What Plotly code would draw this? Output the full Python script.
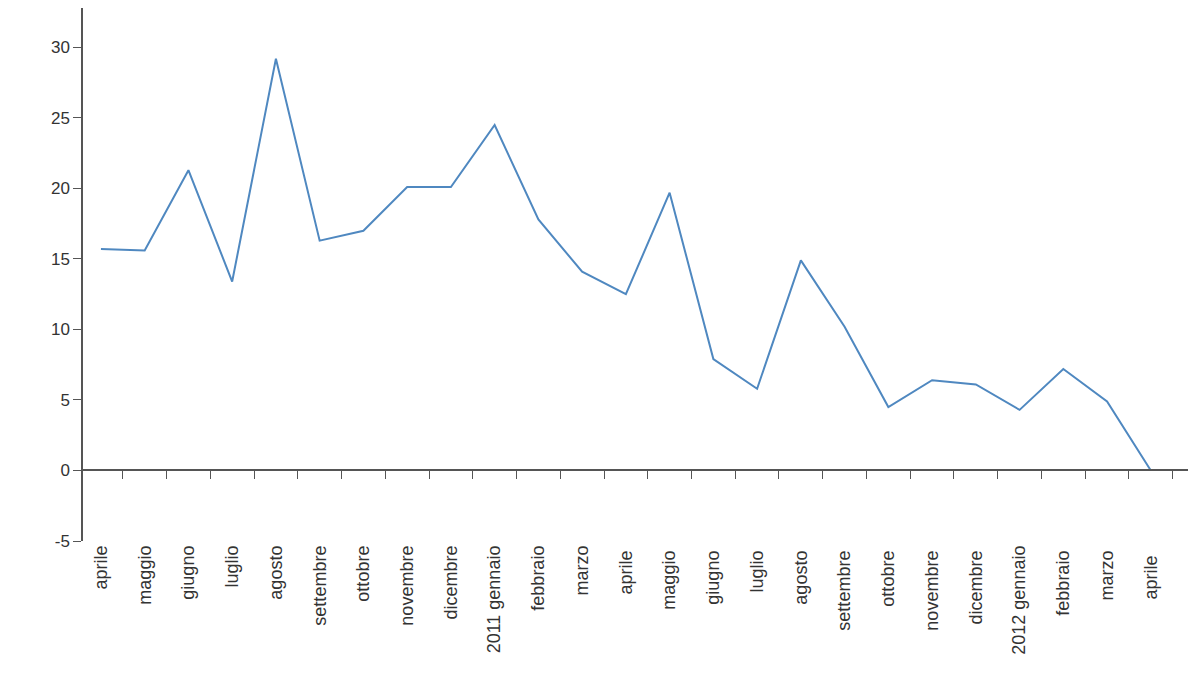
import plotly.graph_objs as go

mesi = ["aprile", "maggio", "giugno", "luglio", "agosto", "settembre", "ottobre",
        "novembre", "dicembre", "2011 gennaio", "febbraio", "marzo", "aprile ", "maggio ",
        "giugno ", "luglio ", "agosto ", "settembre ", "ottobre ", "novembre ", "dicembre ",
        "2012 gennaio", "febbraio ", "marzo ", "aprile  "]
valori = [15.7, 15.6, 21.3, 13.4, 29.2, 16.3, 17.0, 20.1, 20.1, 24.5, 17.8, 14.1, 12.5,
          19.7, 7.9, 5.8, 14.9, 10.2, 4.5, 6.4, 6.1, 4.3, 7.2, 4.9, 0.0]
y_tick = [-5, 0, 5, 10, 15, 20, 25, 30]
y_tick_text = ["-5", "0", "5", "10", "15", "20", "25", "30"]
y_min, y_max = -5, 32.8

fig = go.Figure()
fig.add_trace(go.Scatter(x=mesi, y=valori, mode="lines",
                         line=dict(color="#4f88c0", width=2), xaxis="x", yaxis="y"))
# traccia invisibile per l'asse delle etichette
fig.add_trace(go.Scatter(x=mesi, y=valori, mode="lines", opacity=0,
                         hoverinfo="skip", xaxis="x2", yaxis="y"))

zero_pos = (0 - y_min) / (y_max - y_min)
fig.update_layout(
    width=1200, height=675, showlegend=False,
    plot_bgcolor="white", paper_bgcolor="white",
    margin=dict(l=75, r=20, t=0, b=142, autoexpand=False),
    font=dict(family="Liberation Sans, Arial", size=17, color="#333333"),
    xaxis=dict(type="category", range=[-0.41, 24.85], anchor="free", position=zero_pos,
               showline=True, linecolor="#555555", linewidth=1.5, ticks="outside",
               tickson="boundaries", ticklen=8, tickcolor="#555555",
               showticklabels=False, showgrid=False, zeroline=False),
    xaxis2=dict(type="category", overlaying="x", matches="x", anchor="y", side="bottom",
                showline=False, showgrid=False, zeroline=False, ticks="",
                tickangle=-90, tickfont=dict(size=18, color="#333333"), automargin=False),
    yaxis=dict(range=[y_min, y_max], tickvals=y_tick, ticktext=y_tick_text,
               showline=True, linecolor="#555555", linewidth=1.5, ticks="outside",
               ticklen=8, tickcolor="#555555", showgrid=False, zeroline=False,
               tickfont=dict(size=17), automargin=False),
)
fig.write_html("out.html")
